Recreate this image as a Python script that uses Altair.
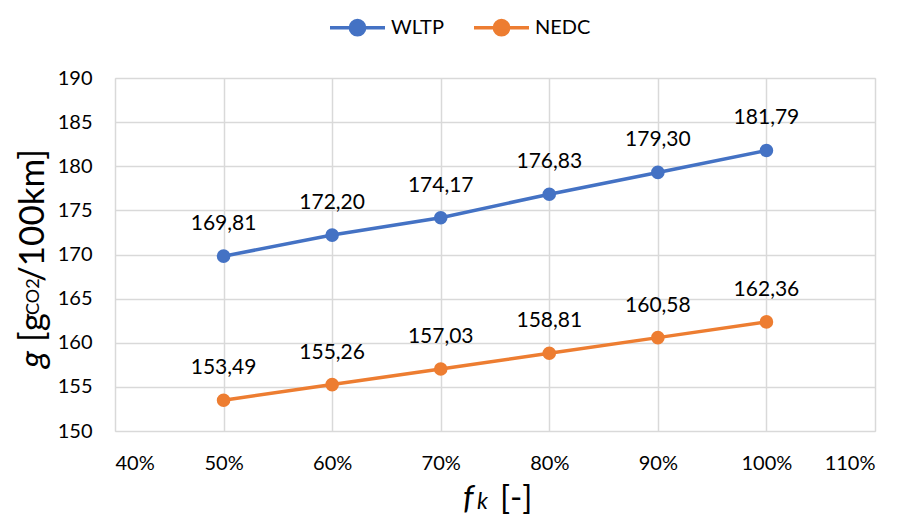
import altair as alt
import pandas as pd

fk = [0.5, 0.6, 0.7, 0.8, 0.9, 1.0]
wltp = [169.81, 172.20, 174.17, 176.83, 179.30, 181.79]
nedc = [153.49, 155.26, 157.03, 158.81, 160.58, 162.36]
wltp_labels = ["169,81", "172,20", "174,17", "176,83", "179,30", "181,79"]
nedc_labels = ["153,49", "155,26", "157,03", "158,81", "160,58", "162,36"]
series = ["WLTP", "NEDC"]
colors = ["#4472C4", "#ED7D31"]
x_ticks = [0.4, 0.5, 0.6, 0.7, 0.8, 0.9, 1.0, 1.1]
y_ticks = [150, 155, 160, 165, 170, 175, 180, 185, 190]
y_title_parts = ["g", "[g", "CO2", "/100km]"]
x_title_parts = ["f", "k", "[-]"]

rows = []
for name, vals, labs in [("WLTP", wltp, wltp_labels), ("NEDC", nedc, nedc_labels)]:
    for f, v, l in zip(fk, vals, labs):
        rows.append({"fk": f, "g": v, "series": name, "label": l})
df = pd.DataFrame(rows)

FONT = "Lato"
W, H = 760, 353

x = alt.X("fk:Q", scale=alt.Scale(domain=[0.4, 1.1], nice=False),
          axis=alt.Axis(values=x_ticks, format=".0%", title=None, ticks=False,
                        domain=False, labelPadding=22, labelFontSize=20,
                        labelFont=FONT, labelColor="#000000",
                        gridColor="#D9D9D9", gridWidth=1.5))
y = alt.Y("g:Q", scale=alt.Scale(domain=[150, 190], nice=False, zero=False),
          axis=alt.Axis(values=y_ticks, title=None, ticks=False, domain=False,
                        labelPadding=23, labelFontSize=20, labelFont=FONT,
                        labelColor="#000000", gridColor="#D9D9D9", gridWidth=1.5))
color = alt.Color("series:N", scale=alt.Scale(domain=series, range=colors),
                  legend=alt.Legend(
                      title=None, orient="none", direction="horizontal",
                      legendX=213, legendY=-80,
                      symbolType="M-1,0L1,0M0.26,0A0.26,0.26,0,1,1,-0.26,0A0.26,0.26,0,1,1,0.26,0Z",
                      symbolSize=3025, symbolStrokeWidth=3.5, symbolOpacity=1,
                      labelFont=FONT, labelFontSize=20, labelColor="#000000",
                      labelOffset=4, columnPadding=23))

base = alt.Chart(df)
lines = base.mark_line(strokeWidth=3.5).encode(x=x, y=y, color=color)
points = base.mark_point(filled=True, size=185, opacity=1).encode(x=x, y=y, color=color)
labels = base.mark_text(font=FONT, fontSize=21, baseline="middle", dy=-32,
                        color="#000000").encode(x=x, y=y, text="label:N")

one = pd.DataFrame({"k": [0]})

def piece(txt, px, py, size, italic=False, angle=0):
    kw = dict(font=FONT, fontSize=size, align="left", baseline="alphabetic",
              color="#000000", text=txt)
    if italic:
        kw["fontStyle"] = "italic"
    if angle:
        kw["angle"] = angle
    return alt.Chart(one).mark_text(**kw).encode(x=alt.value(px), y=alt.value(py))

ytitle = [
    piece(y_title_parts[0], -71, 290, 35, italic=True, angle=270),
    piece(y_title_parts[1], -71, 264, 35, angle=270),
    piece(y_title_parts[2], -76, 237, 18, angle=270),
    piece(y_title_parts[3], -71, 204, 35, angle=270),
]
xtitle = [
    piece(x_title_parts[0], 348, 431, 33, italic=True),
    piece(x_title_parts[1], 362, 431, 23, italic=True),
    piece(x_title_parts[2], 385, 431, 33),
]

chart = alt.layer(lines, points, labels, *ytitle, *xtitle).properties(
    width=W, height=H,
    padding={"left": 107, "top": 70, "right": 20, "bottom": 87},
    autosize=alt.AutoSizeParams(type="none"),
).configure_view(stroke=None).configure(background="#FFFFFF")

chart.save("out.html", embed_options={"renderer": "svg", "actions": False})
